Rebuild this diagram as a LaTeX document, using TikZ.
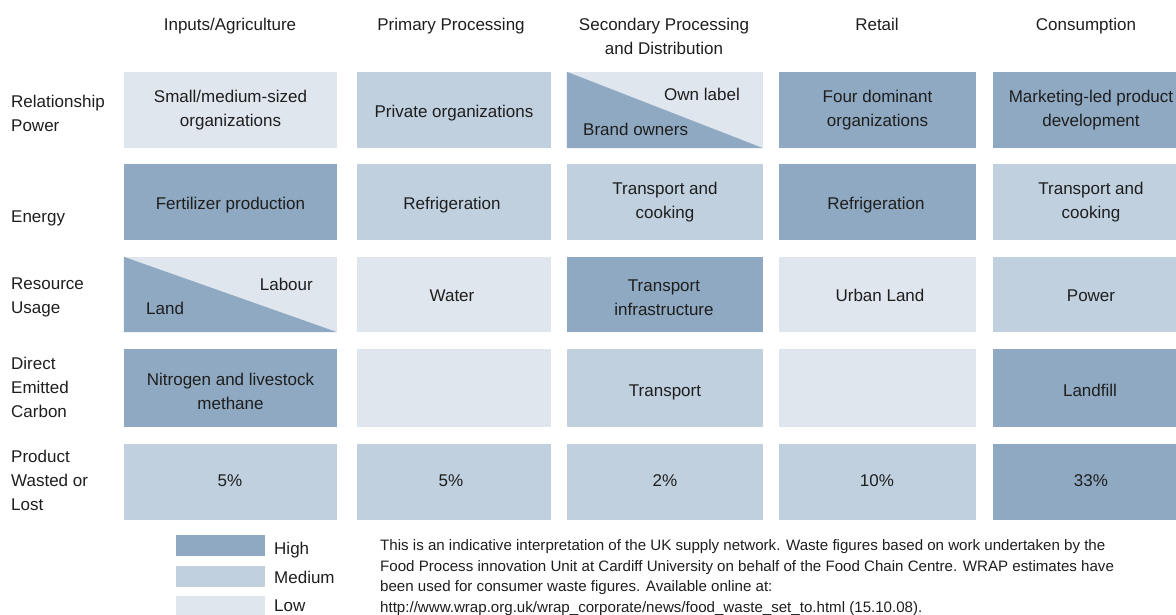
\documentclass[tikz,border=0pt]{standalone}
\usepackage{fontspec}
\setmainfont{Liberation Sans}
\definecolor{high}{HTML}{8EA9C1}
\definecolor{med}{HTML}{C0D0DF}
\definecolor{low}{HTML}{DFE6EE}
\definecolor{ink}{HTML}{1E1E1E}
\begin{document}
\begin{tikzpicture}[x=1pt,y=-1pt,
  every node/.style={text=ink},
  txt/.style={font=\fontsize{17}{24}\selectfont, align=center, inner sep=0pt},
  one/.style={txt, text height=12.5pt, text depth=3.5pt},
  rowlab/.style={font=\fontsize{17}{24}\selectfont, align=left, anchor=west, inner sep=0pt},
  cell/.style={draw=none, inner sep=0pt},
  c1/.style={cell, minimum width=213pt},
  c2/.style={cell, minimum width=194pt},
  c3/.style={cell, minimum width=196pt},
  c4/.style={cell, minimum width=197pt},
  c5/.style={cell, minimum width=196pt},
  r1/.style={minimum height=76pt},
  r2/.style={minimum height=76pt},
  r3/.style={minimum height=75pt},
  r4/.style={minimum height=78pt},
  r5/.style={minimum height=76pt},
  legbox/.style={minimum width=89pt, inner sep=0pt},
  foot/.style={font=\fontsize{15.1}{20.9}\selectfont, align=left, anchor=north west, inner sep=0pt}
]
\useasboundingbox (0,0) rectangle (1176,614);

% headers
\node[one] (h1) at (230,26) {Inputs/Agriculture};
\node[one] (h2) at (451,26) {Primary Processing};
\node[txt] (h3) at (664,36.5) {Secondary Processing\\and Distribution};
\node[one] (h4) at (877,26) {Retail};
\node[one] (h5) at (1086,26) {Consumption};

% row labels
\node[rowlab] (l1) at (11,113) {Relationship\\Power};
\node[one,anchor=west] (l2) at (11,218) {Energy};
\node[rowlab] (l3) at (11,297) {Resource\\Usage};
\node[rowlab] (l4) at (11,387) {Direct\\Emitted\\Carbon};
\node[rowlab] (l5) at (11,480) {Product\\Wasted or\\Lost};

% row 1
\node[c1,r1,fill=low] (a1) at (230.5,110) {};
\node[txt] (a1t) at (230.5,110.5) {Small/medium-sized\\organizations};
\node[c2,r1,fill=med] (a2) at (454,110) {};
\node[one] (a2t) at (454,112.5) {Private organizations};
\node[c3,r1,fill=low] (a3) at (665,110) {};
\fill[high] (a3.north west) -- (a3.south east) -- (a3.south west) -- cycle;
\node[txt,anchor=east] (a3u) at (740,94) {Own label};
\node[txt,anchor=west] (a3l) at (583,129) {Brand owners};
\node[c4,r1,fill=high] (a4) at (877.5,110) {};
\node[txt] (a4t) at (877.5,110) {Four dominant\\organizations};
\node[c5,r1,fill=high] (a5) at (1091,110) {};
\node[txt] (a5t) at (1091,110) {Marketing-led product\\development};

% row 2
\node[c1,r2,fill=high] (b1) at (230.5,202) {};
\node[one] (b1t) at (230.5,204.5) {Fertilizer production};
\node[c2,r2,fill=med] (b2) at (454,202) {};
\node[one] (b2t) at (452,204.5) {Refrigeration};
\node[c3,r2,fill=med] (b3) at (665,202) {};
\node[txt] (b3t) at (665,202.5) {Transport and\\cooking};
\node[c4,r2,fill=high] (b4) at (877.5,202) {};
\node[one] (b4t) at (876,204.5) {Refrigeration};
\node[c5,r2,fill=med] (b5) at (1091,202) {};
\node[txt] (b5t) at (1091,202.5) {Transport and\\cooking};

% row 3
\node[c1,r3,fill=low] (d1) at (230.5,294.5) {};
\fill[high] (d1.north west) -- (d1.south east) -- (d1.south west) -- cycle;
\node[txt,anchor=east] (d1u) at (313,284) {Labour};
\node[txt,anchor=west] (d1l) at (146,308) {Land};
\node[c2,r3,fill=low] (d2) at (454,294.5) {};
\node[one] (d2t) at (452,296.5) {Water};
\node[c3,r3,fill=high] (d3) at (665,294.5) {};
\node[txt] (d3t) at (664,297.5) {Transport\\infrastructure};
\node[c4,r3,fill=low] (d4) at (877.5,294.5) {};
\node[one] (d4t) at (880,296.5) {Urban Land};
\node[c5,r3,fill=med] (d5) at (1091,294.5) {};
\node[one] (d5t) at (1091,296.5) {Power};

% row 4
\node[c1,r4,fill=high] (e1) at (230.5,388) {};
\node[txt] (e1t) at (230.5,391) {Nitrogen and livestock\\methane};
\node[c2,r4,fill=low] (e2) at (454,388) {};
\node[c3,r4,fill=med] (e3) at (665,388) {};
\node[one] (e3t) at (665,391.5) {Transport};
\node[c4,r4,fill=low] (e4) at (877.5,388) {};
\node[c5,r4,fill=high] (e5) at (1091,388) {};
\node[one] (e5t) at (1090,391.5) {Landfill};

% row 5
\node[c1,r5,fill=med] (f1) at (230.5,482) {};
\node[one] (f1t) at (230,481.5) {5\%};
\node[c2,r5,fill=med] (f2) at (454,482) {};
\node[one] (f2t) at (451,481.5) {5\%};
\node[c3,r5,fill=med] (f3) at (665,482) {};
\node[one] (f3t) at (665,481.5) {2\%};
\node[c4,r5,fill=med] (f4) at (877.5,482) {};
\node[one] (f4t) at (877,481.5) {10\%};
\node[c5,r5,fill=high] (f5) at (1091,482) {};
\node[one] (f5t) at (1091,481.5) {33\%};

% legend
\node[legbox,minimum height=21pt,fill=high] (kh) at (220.5,545.5) {};
\node[legbox,minimum height=21pt,fill=med] (km) at (220.5,576.5) {};
\node[legbox,minimum height=20pt,fill=low] (kl) at (220.5,606) {};
\node[one,anchor=west] (khl) at (274,550) {High};
\node[one,anchor=west] (kml) at (274,578.5) {Medium};
\node[one,anchor=west] (kll) at (274,606.5) {Low};

% footnote
\node[foot] (fn) at (380,539) {This is an indicative interpretation of the UK supply network. Waste figures based on work undertaken by the\\
Food Process innovation Unit at Cardiff University on behalf of the Food Chain Centre. WRAP estimates have\\
been used for consumer waste figures. Available online at:\\
http://www.wrap.org.uk/wrap\_corporate/news/food\_waste\_set\_to.html (15.10.08).};
\end{tikzpicture}
\end{document}
